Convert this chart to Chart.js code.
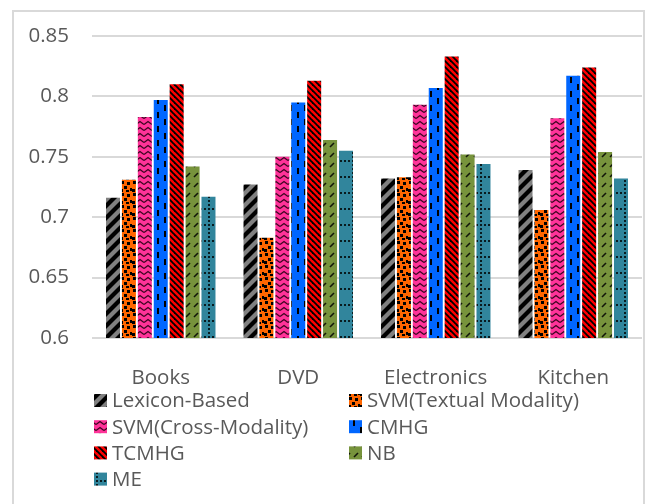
<!DOCTYPE html>
<html>
<head>
<meta charset="utf-8">
<script src="https://cdn.jsdelivr.net/npm/chart.js@4"></script>
<style>
  html, body { margin: 0; padding: 0; background: #fff; }
  #wrap { width: 651px; height: 504px; position: relative; }
  canvas { display: block; }
</style>
</head>
<body>
<div id="wrap"><canvas id="c" width="651" height="504"></canvas></div>
<script>
// Accuracy per product domain, one array per method
const categories = ['Books', 'DVD', 'Electronics', 'Kitchen'];
const seriesNames = ['Lexicon-Based', 'SVM(Textual Modality)', 'SVM(Cross-Modality)', 'CMHG', 'TCMHG', 'NB', 'ME'];
const lexiconBased = [0.716, 0.727, 0.732, 0.739];
const svmTextual   = [0.731, 0.683, 0.733, 0.706];
const svmCross     = [0.783, 0.750, 0.793, 0.782];
const cmhg         = [0.797, 0.795, 0.807, 0.817];
const tcmhg        = [0.810, 0.813, 0.833, 0.824];
const nb           = [0.742, 0.764, 0.752, 0.754];
const me           = [0.717, 0.755, 0.744, 0.732];
const yTickLabels  = ['0.6', '0.65', '0.7', '0.75', '0.8', '0.85'];

const FONT = '"Open Sans", "Noto Sans", sans-serif';
const TEXT = '#595959';
const GRID = '#d9d9d9';

const canvas = document.getElementById('c');
const ctx0 = canvas.getContext('2d');

// Small repeating tiles used as hatch fills
function tile(w, h, bg, draw) {
  const c = document.createElement('canvas');
  c.width = w; c.height = h;
  const g = c.getContext('2d');
  g.fillStyle = bg; g.fillRect(0, 0, w, h);
  g.fillStyle = '#000'; g.strokeStyle = '#000';
  draw(g, w, h);
  return ctx0.createPattern(c, 'repeat');
}

const fills = [
  // wide upward diagonal on grey
  tile(12, 12, '#808080', g => {
    g.lineWidth = 4.2;
    for (const k of [-12, 0, 12]) { g.beginPath(); g.moveTo(k - 2, 14); g.lineTo(k + 14, -2); g.stroke(); }
  }),
  // confetti on orange
  tile(12, 12, '#ff6600', g => {
    [[1, 1], [7, 2], [4, 6], [10, 8], [0, 9], [6, 10]].forEach(([x, y]) => g.fillRect(x, y, 3, 3));
  }),
  // wave on pink
  tile(8, 6, '#ff3399', g => {
    g.lineWidth = 1.4; g.strokeStyle = 'rgba(40,0,20,0.9)';
    g.beginPath(); g.moveTo(0, 4.5); g.lineTo(4, 1.5); g.lineTo(8, 4.5); g.stroke();
  }),
  // dashed vertical on blue
  tile(14, 14, '#0066ff', g => {
    g.fillRect(3, 0, 2, 6);
    g.fillRect(10, 7, 2, 6);
  }),
  // dark downward diagonal on red
  tile(6, 6, '#ff0000', g => {
    g.lineWidth = 1.8;
    for (const k of [-6, 0, 6]) { g.beginPath(); g.moveTo(k - 1, -1); g.lineTo(k + 7, 7); g.stroke(); }
  }),
  // dashed upward diagonal on olive
  tile(8, 10, '#77933c', g => {
    g.lineWidth = 1.6; g.strokeStyle = 'rgba(0,0,0,0.85)';
    g.beginPath(); g.moveTo(2, 7); g.lineTo(6, 3); g.stroke();
  }),
  // dotted grid on teal
  tile(16, 16, '#31859c', g => {
    g.fillStyle = 'rgba(0,0,0,0.8)';
    [0, 4, 8, 12].forEach(x => g.fillRect(x, 0, 2, 2));
    [4, 8, 12].forEach(y => g.fillRect(0, y, 2, 2));
  })
];

const seriesValues = [lexiconBased, svmTextual, svmCross, cmhg, tcmhg, nb, me];

// Outer frame drawn behind the chart
const framePlugin = {
  id: 'frame',
  beforeDraw(chart) {
    const c = chart.ctx;
    c.save();
    c.fillStyle = '#fff';
    c.fillRect(0, 0, chart.width, chart.height);
    c.strokeStyle = GRID;
    c.lineWidth = 2;
    c.strokeRect(13, 11, 631, 520);
    c.restore();
  }
};

// Two-column legend under the axis labels
const gridLegend = {
  id: 'gridLegend',
  afterDraw(chart) {
    const c = chart.ctx;
    c.save();
    c.font = '20.5px ' + FONT;
    c.textBaseline = 'middle';
    c.textAlign = 'left';
    chart.data.datasets.forEach((ds, i) => {
      const col = i % 2, row = Math.floor(i / 2);
      const x = col ? 349 : 94;
      const y = 400.5 + row * 26.2;
      c.fillStyle = ds.backgroundColor;
      c.fillRect(x, y - 6.5, 13, 13);
      c.fillStyle = TEXT;
      c.fillText(ds.label, x + 18, y + 1);
    });
    c.restore();
  }
};

new Chart(canvas, {
  type: 'bar',
  data: {
    labels: categories,
    datasets: seriesNames.map((name, i) => ({
      label: name,
      data: seriesValues[i],
      backgroundColor: fills[i],
      borderWidth: 0,
      categoryPercentage: 0.81,
      barPercentage: 0.88
    }))
  },
  options: {
    responsive: false,
    animation: false,
    devicePixelRatio: 1,
    layout: { padding: { left: 0, right: 9, top: 36, bottom: 0 } },
    plugins: {
      legend: { display: false },
      tooltip: { enabled: false }
    },
    scales: {
      x: {
        grid: { display: false },
        border: { display: false },
        ticks: { color: TEXT, font: { family: FONT, size: 20.5 }, padding: 20, maxRotation: 0 },
        afterFit(s) { s.height = 166; s.paddingLeft = 0; s.paddingRight = 0; }
      },
      y: {
        min: 0.6,
        max: 0.85,
        grid: { color: GRID, lineWidth: 2, drawTicks: false },
        border: { display: false },
        ticks: {
          stepSize: 0.05,
          color: TEXT,
          font: { family: FONT, size: 20.5 },
          padding: 23,
          callback: (v, i) => yTickLabels[i]
        },
        afterFit(s) { s.width = 92; s.paddingTop = 0; s.paddingBottom = 0; }
      }
    }
  },
  plugins: [framePlugin, gridLegend]
});
</script>
</body>
</html>
